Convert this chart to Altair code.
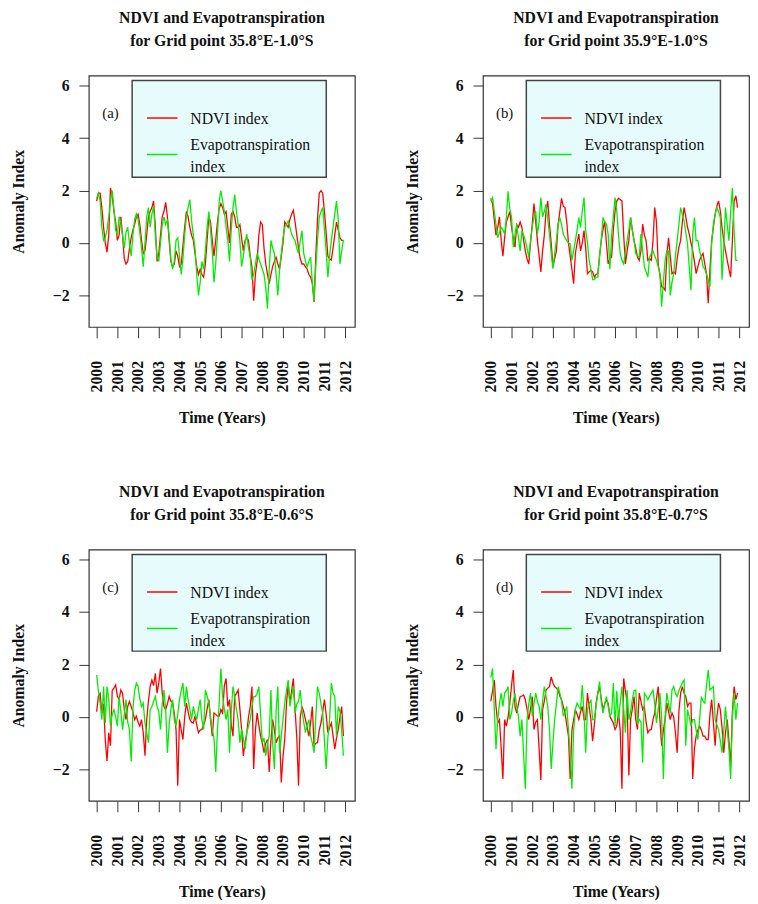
import altair as alt
import pandas as pd

# ---------------- data (monthly anomalies, Jan 2000 - Dec 2011) ----------------
month_index = list(range(144))
year_ticks = list(range(2000, 2013))
y_ticks = [-2, 0, 2, 4, 6]
series_names = ["NDVI index", "Evapotranspiration index"]
panel_tags = ["(a)", "(b)", "(c)", "(d)"]
panel_points = ["35.8°E-1.0°S", "35.9°E-1.0°S", "35.8°E-0.6°S", "35.8°E-0.7°S"]

ndvi_a = [
    1.6, 1.9, 1.9, 1.35, 0.6, 0.0, -0.35, 0.3, 2.1, 1.8, 1.2, 0.8,
    0.1, 0.3, 1.0, 0.3, -0.6, -0.8, -0.7, -0.2, 0.2, 0.5, 0.7, 1.0,
    1.1, 0.7, 0.1, -0.4, -0.3, 0.3, 1.0, 1.2, 1.35, 1.6, 0.6, -0.7,
    -0.4, 0.3, 1.0, 1.2, 1.55, 1.0, 0.1, -0.7, -0.9, -0.8, -0.3, -0.5,
    -0.9, -0.8, -0.1, 0.6, 1.2, 1.0, 0.6, 0.3, 0.1, -0.4, -0.9, -1.2,
    -1.0, -1.2, -1.3, -0.8, 0.1, 1.0, 0.8, 0.1, -0.5, 0.1, 0.8, 1.3,
    1.5, 1.35, 1.1, 1.2, 0.6, 0.0, 1.1, 1.2, 1.0, 0.6, 0.6, 0.7,
    0.2, -0.3, 0.1, 0.2, 0.1, -0.5, -0.9, -2.2, -1.2, -0.7, 0.3, 0.8,
    0.7, -0.2, -0.8, -1.2, -1.55, -1.2, -0.9, -0.7, -0.54, -0.8, -1.0, -0.5,
    0.0, 0.8, 0.7, 0.6, 0.9, 1.1, 1.25, 0.8, 0.3, -0.2, -0.6, -0.8,
    -0.8, -0.9, -1.0, -1.2, -1.3, -1.55, -2.25, -0.5, 0.9, 1.9, 2.0, 1.9,
    1.2, 0.4, -0.5, -0.6, -0.65, -0.2, 0.3, 0.8, 0.5, 0.2, 0.1, 0.1,
]
et_a = [
    1.7, 1.9, 1.6, 0.6, 0.1, 0.2, 0.5, 1.0, 1.6, 2.0, 1.3, 0.5,
    0.3, 1.0, 0.8, 0.3, -0.2, 0.4, 0.6, 0.0, -0.5, 0.3, 0.9, 1.1,
    0.9, 0.4, -0.2, -0.9, 0.0, 1.0, 1.35, 0.6, 1.1, 1.4, 0.3, -0.5,
    -0.7, 0.0, 0.7, 1.0, 0.7, 0.9, 0.3, -0.6, -1.0, -0.7, 0.1, 0.2,
    -0.5, -1.2, -0.6, 0.3, 1.0, 1.35, 1.65, 0.85, 0.3, -0.2, -1.2, -2.0,
    -1.5, -0.7, -1.0, -0.3, 0.6, 1.2, 0.5, -0.3, -1.5, -0.8, 0.3, 1.6,
    2.0, 1.6, 1.2, 0.6, 0.1, -0.7, 0.5, 1.35, 1.85, 1.2, 0.72, 0.1,
    -0.9, -0.5, 0.0, 0.34, -0.2, -0.54, -1.4, -1.2, -0.8, -0.4, -0.6, -0.8,
    -1.0, -1.2, -1.7, -2.5, -1.0, 0.1, -0.2, -0.4, -1.2, -2.0, -1.0, -0.4,
    0.2, 0.6, 0.7, 0.84, 0.6, 0.34, 0.2, 0.09, -0.2, -0.4, 0.1, 0.47,
    -0.4, -0.7, -0.9, -0.7, -0.54, -1.5, -2.2, -0.9, 0.1, 0.97, 1.2, 1.35,
    0.5, -0.3, -1.3, -0.5, 0.1, 0.6, 1.1, 1.6, 0.9, -0.8, -0.3, 0.1,
]
ndvi_b = [
    1.7, 1.5, 0.9, 0.3, 0.6, 1.0, 0.1, -0.5, 0.2, 0.8, 1.0, 1.2,
    0.6, 0.2, -0.16, 0.7, 0.6, 0.8, 0.6, 0.1, -0.3, -0.6, -0.8, 0.0,
    0.7, 1.5, 0.8, 0.1, -0.5, -1.1, -0.3, 0.3, 1.2, 1.6, 0.7, 0.0,
    -0.9, -0.6, -0.3, 0.7, 1.2, 1.7, 1.4, 1.35, 0.8, 0.0, -0.5, -1.0,
    -1.55, -0.4, 0.0, 0.34, -0.3, 0.0, 0.47, -0.2, -1.17, -1.1, -1.04, -1.1,
    -1.3, -1.2, -1.17, -0.5, 0.09, 0.5, 0.84, 0.0, -0.8, -0.6, -0.54, 0.5,
    1.22, 1.6, 1.7, 1.66, 1.6, 0.3, -0.8, -0.3, 0.1, 0.97, 0.5, 0.09,
    -0.2, -0.54, -0.66, -0.3, 0.72, 0.3, 0.09, -0.66, -0.6, -0.66, 0.09, 1.35,
    0.8, -0.8, -1.2, -1.67, -1.7, -1.8, -0.5, 0.2, -0.5, -1.17, -1.1, -1.17,
    -0.6, -0.16, 0.09, 0.8, 1.35, 1.0, 0.6, 0.34, 0.0, -0.3, -0.7, -1.17,
    -0.9, -0.66, -0.5, -0.4, -0.8, -1.17, -2.3, -1.0, 0.09, 0.6, 1.09, 1.4,
    1.6, 1.22, 0.6, 0.09, -0.3, -0.66, -1.0, -1.3, 0.09, 1.6, 1.8, 1.35,
]
et_b = [
    1.6, 1.73, 1.2, 0.7, 0.2, 0.4, 0.6, 0.5, 0.34, 1.0, 1.97, 1.3,
    1.0, -0.16, 0.3, 0.72, 0.2, -0.3, 0.47, 0.3, 0.09, -0.2, -0.54, 0.1,
    0.6, 1.0, 1.22, 0.34, 0.8, 1.73, 1.0, 1.2, 1.48, 0.9, 0.34, -0.4,
    -0.98, -0.4, 0.09, 0.72, 0.97, 0.7, 0.34, 0.2, 0.09, 0.0, -0.03, -0.66,
    -0.3, 0.09, 0.5, 0.97, 0.59, 1.2, 1.73, 0.47, 0.0, -0.66, -1.0, -1.4,
    -1.4, -1.3, -1.3, -0.5, 0.09, 0.97, 0.8, 0.72, 0.34, -1.0, 0.3, 1.0,
    1.73, 1.22, 0.3, -0.4, -0.66, -0.8, -0.3, 0.09, 0.5, 0.97, 0.5, 0.09,
    -0.4, -0.5, -0.54, 0.34, -0.3, -0.9, -1.1, -1.3, -0.54, -0.4, -0.3, -0.5,
    -0.66, -0.9, -1.17, -2.43, -1.5, -0.66, -0.3, -0.3, -2.0, -1.5, -1.17, -0.5,
    0.09, 0.7, 1.35, 1.1, 0.84, 0.4, -0.03, -0.9, -1.8, 0.3, 0.97, 0.09,
    0.09, -0.3, -0.54, -0.9, -1.0, -1.17, -1.4, -1.67, 0.0, 0.72, 1.1, 1.35,
    1.2, 0.97, -1.4, -0.2, 1.35, 0.7, 0.09, 1.2, 2.1, 0.47, -0.66, -0.66,
]
ndvi_c = [
    0.2, 0.8, 0.9, 0.15, 0.5, -0.9, -1.68, -0.6, -1.1, 1.0, 1.1, 1.22,
    0.8, 0.66, 1.03, 0.91, 0.3, -0.1, 0.4, 0.59, 0.4, 0.2, -0.1, 0.03,
    -0.2, -0.35, -0.1, -0.6, -1.48, -0.1, 0.6, 1.16, 1.41, 1.2, 1.66, 0.91,
    1.3, 1.85, 0.9, 0.4, 0.28, 0.5, 0.78, 0.6, 0.53, 0.15, -0.48, -2.62,
    -0.1, -0.5, -0.86, 0.0, 0.53, 0.2, -0.1, -0.2, -0.23, 0.03, -0.3, -0.6,
    -0.5, -0.48, -0.3, -0.1, 0.3, 0.66, -0.1, -0.73, 0.15, 0.1, 0.03, 0.03,
    0.28, 0.15, 1.2, 1.47, 0.4, 0.66, -0.3, -0.73, 0.78, 0.9, 1.03, 0.3,
    -0.48, -1.48, -1.0, -0.6, 0.0, 0.4, 1.16, -1.98, -0.5, 0.15, -0.3, -0.73,
    -1.0, -1.36, -1.0, -0.86, -2.1, -0.9, -0.1, -0.5, -0.98, -0.8, -0.73, -2.5,
    -1.5, -0.86, 0.5, 1.29, 0.53, 1.0, 1.47, 0.28, -0.8, -2.62, 0.0, 0.4,
    0.2, -0.1, -0.4, -0.73, -0.2, 0.4, -1.1, -1.0, -0.98, -0.5, -0.23, 0.2,
    0.66, 0.1, -0.6, -0.4, -0.23, -0.7, -1.23, -0.8, -0.48, 0.0, 0.4, -0.73,
]
et_c = [
    1.6, 1.0, 0.53, -0.1, 1.16, -0.23, 1.16, 0.66, -0.35, 0.1, 0.28, 0.0,
    -0.35, 0.78, 0.2, -0.48, 0.1, 0.66, -0.2, -0.48, -1.7, 0.28, 1.0, 1.29,
    1.16, 0.7, 0.4, 0.53, -0.23, -0.6, -0.98, 0.28, 0.4, 0.6, 0.78, 0.4,
    0.21, -0.48, 0.5, 1.03, 0.28, -1.36, -0.3, 0.28, 0.66, -0.1, -0.35, 0.1,
    0.66, 1.0, 1.29, 0.4, 1.16, 0.66, 0.3, -0.1, 0.4, 0.1, -0.1, 0.3,
    0.66, -0.1, -0.48, 1.03, 0.8, 0.53, 0.0, -0.48, -0.8, -2.1, -0.5, 0.53,
    1.85, 0.78, 0.3, -0.1, 0.28, -1.36, 0.2, 1.16, 0.78, 0.3, -0.1, -0.98,
    -0.48, -0.8, -1.23, -0.6, -0.35, -0.1, 0.4, 0.78, 0.78, 0.9, 1.16, 0.1,
    -0.98, -0.8, -1.48, -1.0, -0.73, 1.03, -1.0, -1.98, 0.2, 1.16, -1.36, -0.73,
    -0.1, 0.53, 1.0, 1.41, 0.4, 0.8, 1.16, 0.15, 0.5, 0.6, 1.03, 0.28,
    -0.2, -0.6, -0.3, -0.1, -0.73, -1.0, -1.36, 0.0, 1.16, 0.91, 0.5, 0.15,
    -0.9, -1.98, -0.8, -0.1, 1.29, 0.9, 0.78, -0.73, 0.4, 0.2, -0.5, -1.48,
]
ndvi_d = [
    0.6, 1.0, 1.41, 0.4, -0.23, -0.1, -1.2, -2.36, -0.1, -0.35, 0.0, 0.53,
    1.2, 1.79, 0.4, 0.15, 0.5, 0.78, 0.8, 0.84, 0.66, 0.3, -0.1, 0.3,
    0.78, -0.48, -0.2, -0.1, -1.23, -2.4, 0.28, 0.6, 1.03, 1.1, 1.16, 1.53,
    1.3, 1.16, 1.1, 1.03, 0.8, 0.66, 0.4, 0.15, -0.3, -0.73, -2.36, -0.5,
    -0.1, 0.28, 0.1, -0.1, 0.2, 0.4, -0.1, -0.1, 0.91, 0.4, -0.1, -0.92,
    -0.3, 0.53, 0.9, 1.16, 0.7, 0.28, 0.5, 0.66, 0.53, 0.03, -0.1, -0.23,
    -0.48, -0.35, 0.15, -0.5, -2.74, 1.47, 1.0, 0.53, -2.23, -0.1, 0.3, 0.78,
    -0.1, -0.48, 0.91, 0.6, 0.28, 0.4, -0.2, -0.6, -0.5, -0.48, -0.1, 0.15,
    0.7, 1.16, -0.1, -1.1, -0.5, -0.1, 0.53, 0.2, -0.1, 0.15, 0.0, -0.6,
    -1.36, 0.2, 0.91, 1.16, 0.9, 0.78, 0.4, 0.53, 0.53, -2.36, -1.2, -0.73,
    -0.5, -0.35, -0.5, -0.73, -0.73, -0.86, -0.86, 0.1, 0.66, -0.2, -1.1, 0.0,
    0.53, 0.28, -0.4, -1.36, -0.6, -0.1, -0.9, -1.9, 0.2, 1.16, 0.66, 0.91,
]
et_d = [
    1.5, 1.85, 0.3, -1.23, -0.1, 0.5, 0.91, 0.4, 0.91, 1.0, 1.16, -0.1,
    0.15, 0.6, 0.91, 0.4, 0.03, -0.73, -0.1, -1.4, -2.74, -0.1, 0.5, 0.91,
    0.03, 0.5, 0.91, 0.6, 0.4, -0.1, 0.6, 1.16, 0.8, 0.4, -0.48, -1.98,
    -1.0, -0.1, 0.5, 1.16, 0.91, 0.6, 0.03, 0.2, 0.4, -0.5, -1.36, -2.74,
    -0.5, 0.28, 0.53, 0.4, 0.28, 1.22, 0.2, -1.36, 0.28, 0.5, 0.66, -0.1,
    -0.1, 0.4, 0.91, 1.35, 0.6, 0.15, 0.5, 0.78, 0.4, 0.03, 0.15, 1.29,
    -0.35, 1.0, -0.1, 0.53, 1.16, 0.3, -0.6, 1.03, -0.1, 0.2, 0.66, 1.0,
    1.03, -0.23, -0.1, -0.2, -1.74, 0.91, 0.8, 0.66, 0.8, 0.91, 1.03, 0.5,
    -0.23, 0.3, 0.91, 0.0, -2.36, 0.0, 0.91, 0.5, 0.15, 1.03, 1.16, 0.9,
    0.78, 1.0, 1.16, 1.3, 1.41, -1.1, 0.28, 0.0, -0.35, -0.1, -0.1, -0.5,
    -0.86, -0.1, 0.78, 0.6, 0.53, 1.2, 1.79, 1.03, 1.1, 1.16, -0.1, -0.3,
    -0.48, -0.9, -1.36, -0.5, 0.4, -0.48, -1.2, -2.36, 0.0, 0.91, -0.1, 0.53,
]

# ---------------- styling ----------------
W, H = 270, 255
SERIF = "Liberation Serif"
RED = "#ff0000"
GREEN = "#00ee00"

x_scale = alt.Scale(domain=[1999.62, 2012.47], nice=False, zero=False)
y_scale = alt.Scale(domain=[-3.2, 6.38], nice=False, zero=False)
x_axis = alt.Axis(values=year_ticks, format="d", labelAngle=-90, grid=False,
                  domain=False, offset=0, tickSize=11, labelPadding=23,
                  titlePadding=18)
y_axis = alt.Axis(values=y_ticks, format="d", labelAngle=0, grid=False,
                  domain=False, offset=0, tickSize=10, labelPadding=10,
                  titlePadding=26)
X_TITLE = "Time (Years)"
Y_TITLE = "Anomaly Index"


def panel(ndvi, et, point, tag):
    df = pd.DataFrame({
        "t": [2000 + m / 12 for m in month_index],
        series_names[0]: ndvi,
        series_names[1]: et,
    })
    base = alt.Chart(df)
    xenc = alt.X("t:Q", scale=x_scale, axis=x_axis, title=X_TITLE)

    red = base.mark_line(color=RED, strokeWidth=1.3).encode(
        x=xenc,
        y=alt.Y(f"{series_names[0]}:Q", scale=y_scale, axis=y_axis, title=Y_TITLE),
    )
    green = base.mark_line(color=GREEN, strokeWidth=1.3).encode(
        x=xenc,
        y=alt.Y(f"{series_names[1]}:Q", scale=y_scale, axis=y_axis, title=Y_TITLE),
    )

    one = alt.Chart(pd.DataFrame({"k": [0]}))
    # legend box
    box = one.mark_rect(fill="#e6fcfc", stroke="#444", strokeWidth=1.5).encode(
        x=alt.value(44), x2=alt.value(241), y=alt.value(5), y2=alt.value(103)
    )
    key_red = one.mark_rule(color=RED, strokeWidth=1.5).encode(
        x=alt.value(59), x2=alt.value(90), y=alt.value(43)
    )
    key_green = one.mark_rule(color=GREEN, strokeWidth=1.5).encode(
        x=alt.value(59), x2=alt.value(90), y=alt.value(80)
    )
    txt = dict(align="left", baseline="middle", font=SERIF, fontSize=16, color="#111")
    t1 = one.mark_text(**txt).encode(x=alt.value(103), y=alt.value(44),
                                     text=alt.value(series_names[0]))
    t2 = one.mark_text(**txt).encode(x=alt.value(103), y=alt.value(70),
                                     text=alt.value("Evapotranspiration"))
    t3 = one.mark_text(**txt).encode(x=alt.value(103), y=alt.value(93),
                                     text=alt.value("index"))
    tg = one.mark_text(align="center", baseline="middle", font=SERIF, fontSize=15,
                       color="#111").encode(x=alt.value(22), y=alt.value(38),
                                            text=alt.value(tag))

    return alt.layer(red, green, box, key_red, key_green,
                     t1, t2, t3, tg).properties(
        width=W, height=H,
        title=alt.Title(["NDVI and Evapotranspiration", f"for Grid point {point}"]),
    )


panels = [
    panel(ndvi_a, et_a, panel_points[0], panel_tags[0]),
    panel(ndvi_b, et_b, panel_points[1], panel_tags[1]),
    panel(ndvi_c, et_c, panel_points[2], panel_tags[2]),
    panel(ndvi_d, et_d, panel_points[3], panel_tags[3]),
]

chart = alt.concat(*panels, columns=2, spacing={"row": 226, "column": 130},
                   bounds="flush").properties(
    padding={"left": 2, "top": -5, "right": 0, "bottom": 0},
    background="white",
).configure_view(
    stroke="#333", strokeWidth=1.2
).configure_title(
    font=SERIF, fontSize=16, fontWeight="bold", color="#111",
    anchor="middle", offset=27, lineHeight=23,
).configure_axis(
    labelFont=SERIF, labelFontSize=16, labelFontWeight="bold", labelColor="#111",
    titleFont=SERIF, titleFontSize=16, titleFontWeight="bold", titleColor="#111",
    tickColor="#333", tickWidth=1,
)

chart.save("out.html", embed_options={"renderer": "svg", "actions": False})
